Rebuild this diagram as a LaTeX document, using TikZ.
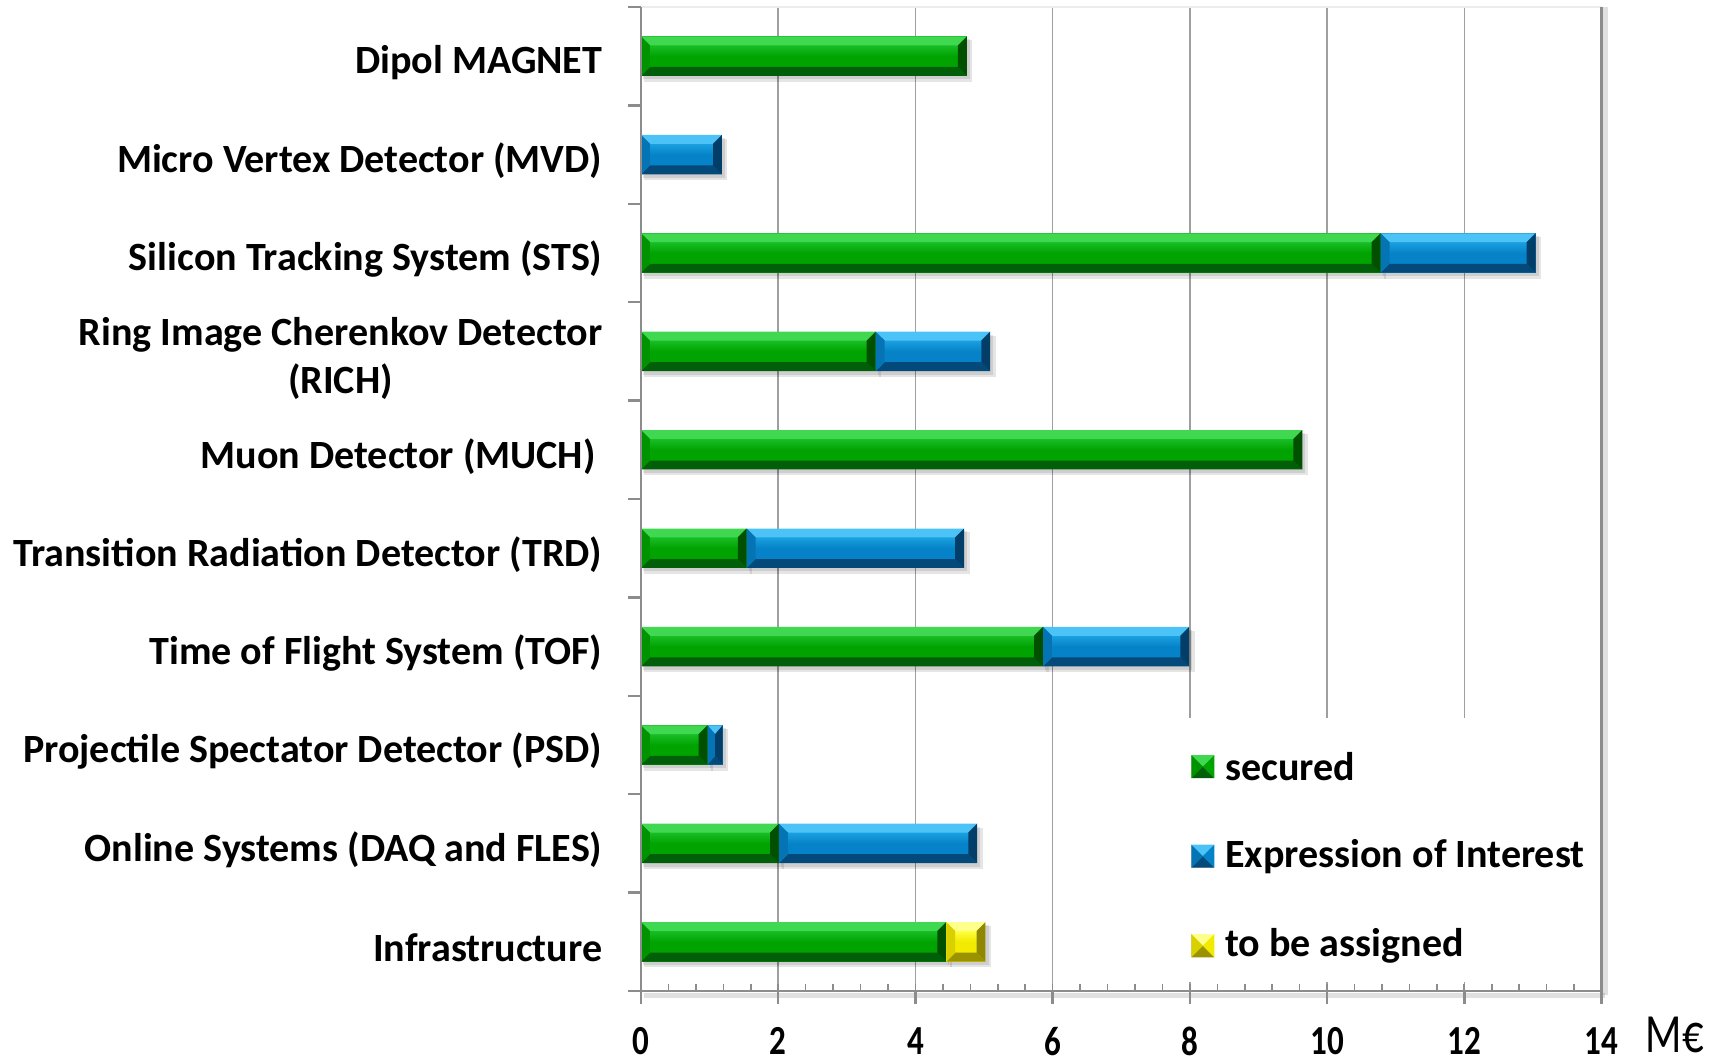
\documentclass[tikz,border=0pt]{standalone}
\usepackage{fontspec}
\setmainfont{Carlito}
\usepackage{xcolor}
\usepackage{tikz}
\usetikzlibrary{positioning,calc}
\definecolor{greenlight}{HTML}{40D850}
\definecolor{greenhi}{HTML}{18BE26}
\definecolor{greenmid}{HTML}{00A300}
\definecolor{greenside}{HTML}{009300}
\definecolor{greendark}{HTML}{005F08}
\definecolor{greenend}{HTML}{005000}
\definecolor{bluelight}{HTML}{4CC3F7}
\definecolor{bluehi}{HTML}{1AA0E0}
\definecolor{bluemid}{HTML}{0683C8}
\definecolor{blueside}{HTML}{0574B4}
\definecolor{bluedark}{HTML}{034A7A}
\definecolor{blueend}{HTML}{033E68}
\definecolor{yellowlight}{HTML}{FFFF8C}
\definecolor{yellowhi}{HTML}{FFFF40}
\definecolor{yellowmid}{HTML}{F2EA00}
\definecolor{yellowside}{HTML}{D9D000}
\definecolor{yellowdark}{HTML}{9A9200}
\definecolor{yellowend}{HTML}{8F8700}
\definecolor{axisgray}{HTML}{8C8C8C}

\begin{document}
\begin{tikzpicture}[
  x=0.686cm, y=0.984cm,
  lbl/.style={anchor=east, inner sep=0pt, font=\fontsize{11.4}{13.7}\selectfont\bfseries},
  num/.style={inner sep=0pt, font=\fontsize{9.4}{11}\selectfont\bfseries},
  unitlbl/.style={inner sep=0pt, font=\fontsize{12.1}{14}\selectfont},
  legtext/.style={anchor=west, inner sep=0pt, font=\fontsize{11.4}{13.7}\selectfont\bfseries},
  swatch/.style={rectangle, draw=gray!40, line width=0.3pt, minimum size=0.22cm, inner sep=0pt},
  grid/.style={draw=gray!75, line width=0.45pt},
  axis/.style={draw=axisgray, line width=0.7pt},
  axisshadow/.style={draw=black, opacity=0.12, line width=1.4pt}
]
\useasboundingbox (-9.344,-0.7215) rectangle (15.80,10.071);

% grid and plot frame
\foreach \v in {2,4,...,12}
  \draw[grid] (\v,0) -- (\v,10);
\draw[gray!15, line width=0.4pt] (0,10) -- (14,10);
\fill[white] (7.5,0.09) rectangle (13.9,2.77);

% bars
\foreach \k/\a/\b/\c in {10/0/4.75/green, 9/0/1.18/blue, 8/0/10.78/green, 8/10.78/13.04/blue,
    7/0/3.42/green, 7/3.42/5.09/blue, 6/0/9.64/green, 5/0/1.54/green, 5/1.54/4.71/blue,
    4/0/5.86/green, 4/5.86/7.99/blue, 3/0/0.97/green, 3/0.97/1.19/blue,
    2/0/2.01/green, 2/2.01/4.90/blue, 1/0/4.45/green, 1/4.45/5.02/yellow}{
  \pgfmathsetmacro{\lo}{\k-0.5-0.2}
  \pgfmathsetmacro{\hi}{\k-0.5+0.2}
  \pgfmathsetmacro{\bw}{min(0.13,(\b-\a)/2)}
  \fill[black, opacity=0.10] (\a+0.05,\lo-0.06) rectangle (\b+0.08,\hi-0.04);
  \fill[black, opacity=0.10] (\a+0.03,\lo-0.035) rectangle (\b+0.045,\hi-0.03);
  \fill[\c mid] (\a,\lo) rectangle (\b,\hi);
  \shade[top color=\c hi, bottom color=\c mid, middle color=\c mid]
    (\a+\bw,\lo+0.09) rectangle (\b-\bw,\hi-0.09);
  \fill[\c light] (\a,\hi) -- (\b,\hi) -- (\b-\bw,\hi-0.09) -- (\a+\bw,\hi-0.09) -- cycle;
  \fill[\c dark] (\a,\lo) -- (\b,\lo) -- (\b-\bw,\lo+0.09) -- (\a+\bw,\lo+0.09) -- cycle;
  \fill[\c side] (\a,\lo) -- (\a,\hi) -- (\a+\bw,\hi-0.09) -- (\a+\bw,\lo+0.09) -- cycle;
  \fill[\c end] (\b,\lo) -- (\b,\hi) -- (\b-\bw,\hi-0.09) -- (\b-\bw,\lo+0.09) -- cycle;
}

% axes
\draw[axisshadow] (0.05,-0.045) -- (14.05,-0.045);
\draw[axisshadow] (14.06,-0.04) -- (14.06,10);
\draw[axis] (0,0) -- (0,10);
\draw[axis] (0,0) -- (14,0);
\draw[axis] (14,0) -- (14,10);
\foreach \k in {0,...,10}
  \draw[axis] (-0.19,\k) -- (0,\k);
\foreach \v in {0,2,...,14}
  \draw[axis] (\v,0) -- (\v,-0.13);
\foreach \i in {1,...,34}
  \draw[axis, line width=0.45pt] (\i*0.4,0) -- (\i*0.4,0.07);

% category labels
\node[lbl] (dipol) at (-0.554,9.435) {Dipol MAGNET};
\node[lbl] (mvd) at (-0.554,8.435) {Micro Vertex Detector (MVD)};
\node[lbl] (sts) at (-0.554,7.435) {Silicon Tracking System (STS)};
\node[lbl, align=center] (rich) at (-0.554,6.43) {Ring Image Cherenkov Detector\\(RICH)};
\node[lbl] (much) at (-0.65,5.435) {Muon Detector (MUCH)};
\node[lbl] (trd) at (-0.554,4.435) {Transition Radiation Detector (TRD)};
\node[lbl] (tof) at (-0.554,3.435) {Time of Flight System (TOF)};
\node[lbl] (psd) at (-0.554,2.435) {Projectile Spectator Detector (PSD)};
\node[lbl] (online) at (-0.554,1.435) {Online Systems (DAQ and FLES)};
\node[lbl] (infra) at (-0.554,0.435) {Infrastructure};

% value axis labels
\foreach \v in {0,2,...,14}
  \node[num] (n\v) at (\v,-0.51) {\scalebox{1}[1.25]{\v}};
\node[unitlbl] (unit) at (15.07,-0.45) {\scalebox{1}[1.3]{M€}};

% legend
\node[swatch, fill=greenmid] (sw1) at (8.19,2.28) {};
\node[swatch, fill=bluemid] (sw2) at (8.19,1.37) {};
\node[swatch, fill=yellowmid] (sw3) at (8.19,0.46) {};
\foreach \s/\c in {sw1/green, sw2/blue, sw3/yellow}{
  \fill[\c light] (\s.north west) -- (\s.north east) -- (\s.center) -- cycle;
  \fill[\c dark] (\s.south west) -- (\s.south east) -- (\s.center) -- cycle;
  \fill[\c side] (\s.north west) -- (\s.south west) -- (\s.center) -- cycle;
  \fill[\c mid] (\s.north east) -- (\s.south east) -- (\s.center) -- cycle;
}
\node[legtext, right=0.1cm of sw1] (leg1) {secured};
\node[legtext, right=0.1cm of sw2] (leg2) {Expression of Interest};
\node[legtext, right=0.1cm of sw3] (leg3) {to be assigned};
\end{tikzpicture}
\end{document}
